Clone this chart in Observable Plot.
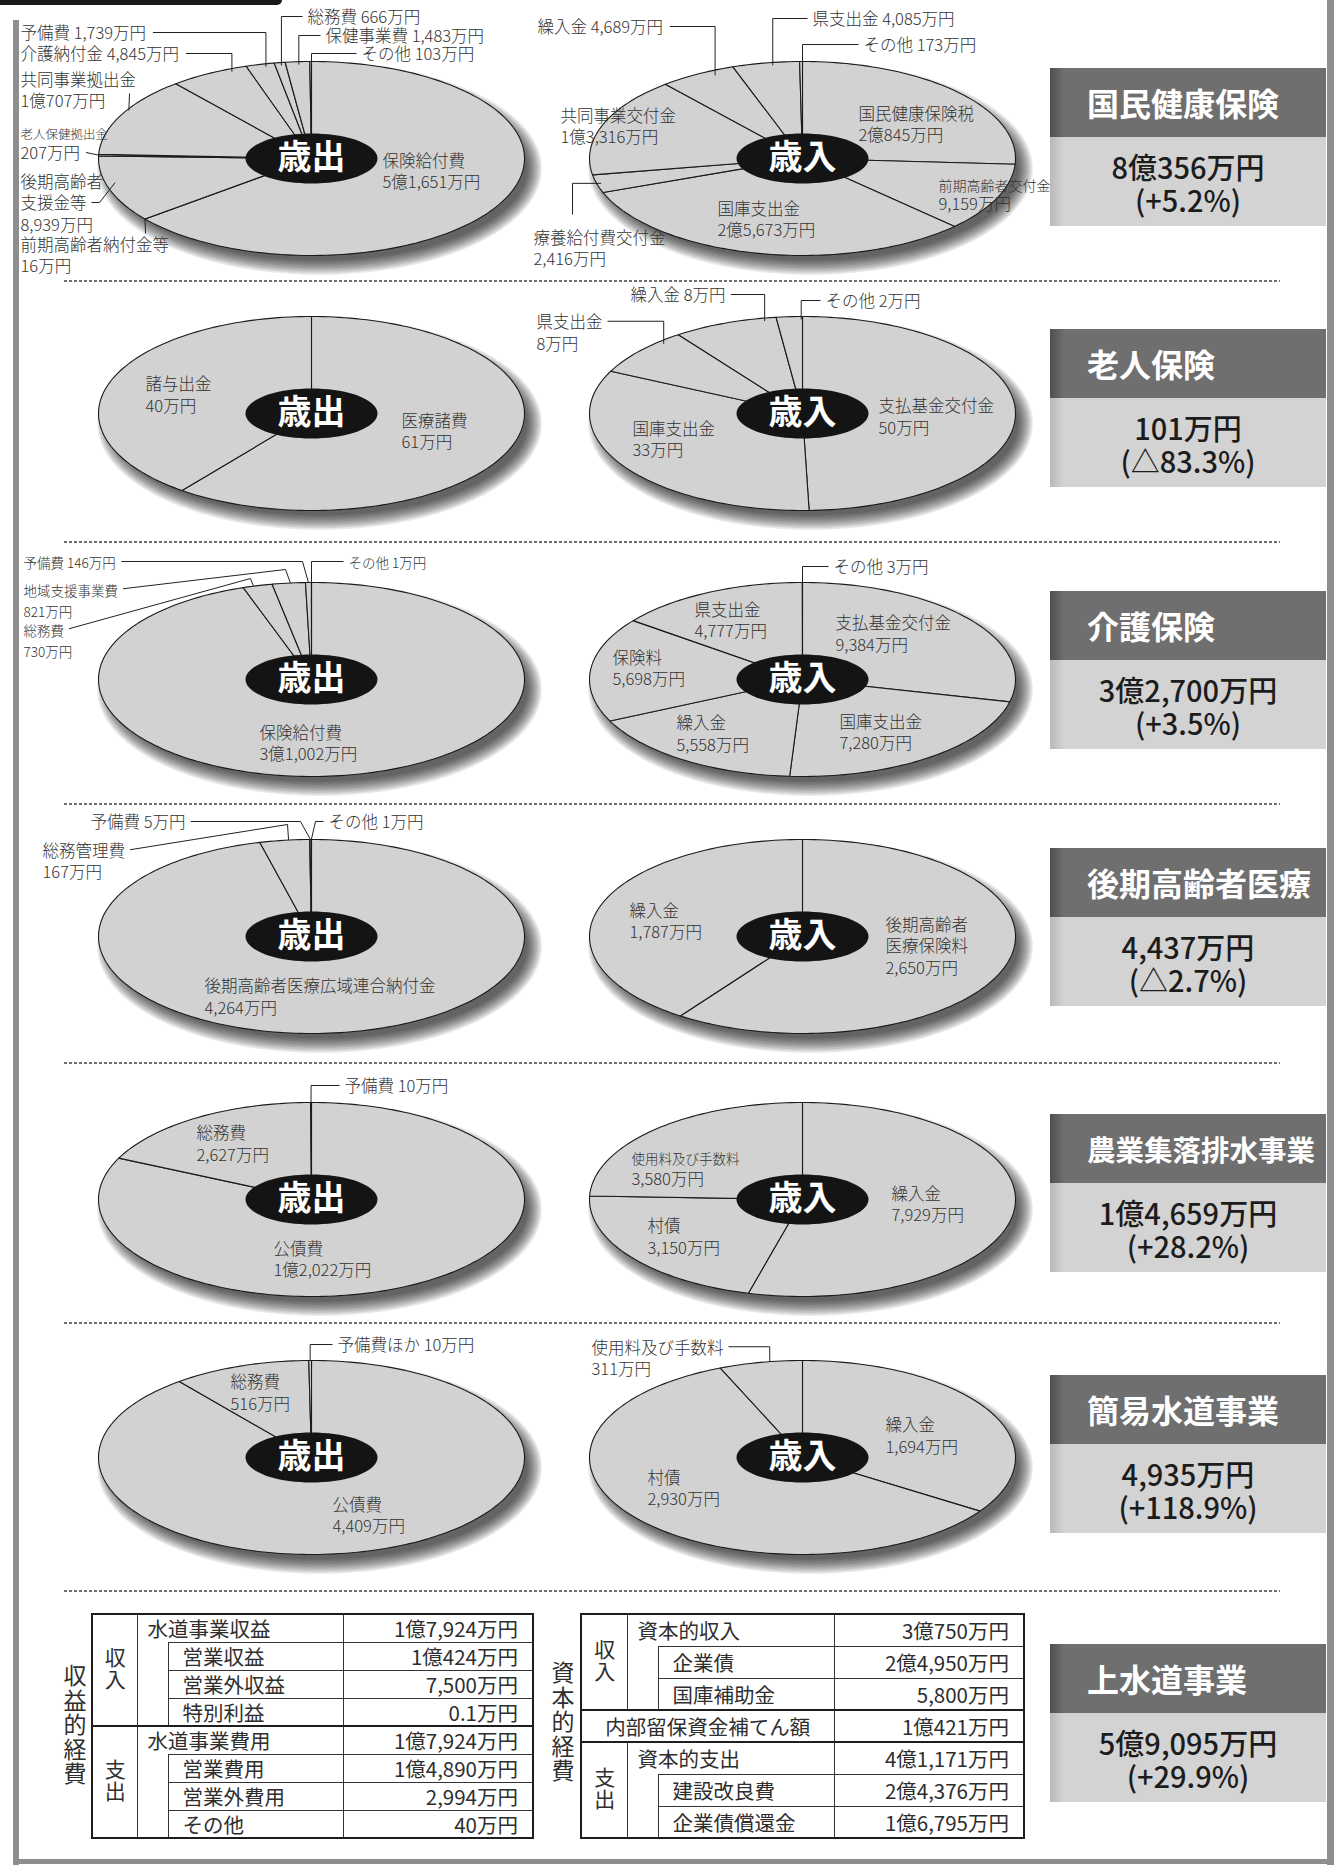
<!DOCTYPE html>
<html><head><meta charset="utf-8">
<script src="https://cdn.jsdelivr.net/npm/d3@7"></script>
<script src="https://cdn.jsdelivr.net/npm/@observablehq/plot@0.6"></script>
<style>
body{margin:0;background:#fff;font-family:"Noto Sans CJK JP","Noto Sans",sans-serif;}
#page{position:relative;width:1335px;height:1865px;overflow:hidden;background:#fff;}
.abs{position:absolute;}
.dash{position:absolute;height:1.5px;background:repeating-linear-gradient(to right,#707070 0 3px,transparent 3px 5px);}
.ban{position:absolute;width:276px;}
.bt{height:69px;line-height:69px;color:#fff;font-weight:700;padding-left:37px;box-sizing:border-box;white-space:nowrap;
 background:linear-gradient(to right,#4e4e4e 0px,#6f6f6f 14px,#6f6f6f 100%);}
.bv{height:89px;box-sizing:border-box;padding-top:13px;text-align:center;color:#1c1c1c;font-size:29px;font-weight:500;line-height:33px;
 background:linear-gradient(to right,#b9b9b9 0px,#d3d3d3 14px,#d3d3d3 100%);}
table.t{position:absolute;border-collapse:collapse;border:2px solid #1e1e1e;table-layout:fixed;color:#2e2e2e;font-size:20.5px;}
table.t td{border:1px solid #333;padding:0;white-space:nowrap;overflow:hidden;line-height:1;}
table.t td.vv{text-align:center;vertical-align:middle;}
table.t td.lb{padding-left:10px;}
table.t td.sub{padding-left:14px;}
table.t td.ctr{text-align:center;}
table.t td.val{text-align:right;padding-right:14px;}
table.t td.blank{border-top:hidden;}
table.t tr.thick td{border-top:2px solid #1e1e1e;}
.vt{display:inline-block;writing-mode:vertical-rl;text-orientation:upright;font-size:21px;letter-spacing:1px;line-height:1;}
.vlab{position:absolute;writing-mode:vertical-rl;text-orientation:upright;font-size:23px;letter-spacing:1.5px;line-height:1;color:#2e2e2e;}
</style></head><body><div id="page"></div>
<script>
// ---------------- data ----------------
const kokuhoOutNames = ["保険給付費","前期高齢者納付金等","後期高齢者支援金等","老人保健拠出金","共同事業拠出金","介護納付金","予備費","総務費","保健事業費","その他"];
const kokuhoOutValues = [51651,16,8939,207,10707,4845,1739,666,1483,103];
const kokuhoInNames = ["国民健康保険税","前期高齢者交付金","国庫支出金","療養給付費交付金","共同事業交付金","繰入金","県支出金","その他"];
const kokuhoInValues = [20845,9159,25673,2416,13316,4689,4085,173];
const rojinOutNames = ["医療諸費","諸与出金"];
const rojinOutValues = [61,40];
const rojinInNames = ["支払基金交付金","国庫支出金","県支出金","繰入金","その他"];
const rojinInValues = [50,33,8,8,2];
const kaigoOutNames = ["保険給付費","総務費","地域支援事業費","予備費","その他"];
const kaigoOutValues = [31002,730,821,146,1];
const kaigoInNames = ["支払基金交付金","国庫支出金","繰入金","保険料","県支出金","その他"];
const kaigoInValues = [9384,7280,5558,5698,4777,3];
const kokiOutNames = ["後期高齢者医療広域連合納付金","総務管理費","予備費","その他"];
const kokiOutValues = [4264,167,5,1];
const kokiInNames = ["後期高齢者医療保険料","繰入金"];
const kokiInValues = [2650,1787];
const nogyoOutNames = ["公債費","総務費","予備費"];
const nogyoOutValues = [12022,2627,10];
const nogyoInNames = ["繰入金","村債","使用料及び手数料"];
const nogyoInValues = [7929,3150,3580];
const kanisuiOutNames = ["公債費","総務費","予備費ほか"];
const kanisuiOutValues = [4409,516,10];
const kanisuiInNames = ["繰入金","村債","使用料及び手数料"];
const kanisuiInValues = [1694,2930,311];

const sectionTitles = ["国民健康保険","老人保険","介護保険","後期高齢者医療","農業集落排水事業","簡易水道事業","上水道事業"];
const sectionChanges = ["(+5.2%)","(△83.3%)","(+3.5%)","(△2.7%)","(+28.2%)","(+118.9%)","(+29.9%)"];

const suidoRevLabels = ["水道事業収益","営業収益","営業外収益","特別利益"];
const suidoRevValues = [17924,10424,7500,0.1];
const suidoExpLabels = ["水道事業費用","営業費用","営業外費用","その他"];
const suidoExpValues = [17924,14890,2994,40];
const capRevLabels = ["資本的収入","企業債","国庫補助金"];
const capRevValues = [30750,24950,5800];
const capFillLabel = "内部留保資金補てん額";
const capFillValue = 10421;
const capExpLabels = ["資本的支出","建設改良費","企業債償還金"];
const capExpValues = [41171,24376,16795];

// ---------------- layout ----------------
const sectionCY = [158,413,679,936,1199,1457];
const bannerTop = [68,329,591,848,1114,1375,1644];
const dashY = [280,541,803,1062,1322,1590];
const FF = '"Noto Sans CJK JP","Noto Sans CJK SC","Noto Sans",sans-serif';
const NS = 16.5, LH = 21.5, RX = 213, RY = 97, PH = 278, PCY = 160;

function fmt(v){
  if(!Number.isInteger(v)) return v + "万円";
  const oku = Math.floor(v/10000), rest = v % 10000;
  return (oku ? oku + "億" : "") + (rest ? d3.format(",")(rest) : "") + "万円";
}
const ctx = document.createElement("canvas").getContext("2d");
function tw(s,size,w=400){ctx.font = `${w} ${size}px ${FF}`;return ctx.measureText(s).width;}

const pies = [
 {sec:0, side:"L", names:kokuhoOutNames, values:kokuhoOutValues, center:"歳出", labels:[
   [6,-291,-126,"i",{ld:{t:.66,r:.97,k:"h"}}],
   [5,-291,-105,"i",{ld:{t:.78,r:.97,k:"h"}}],
   [4,-291,-69,"s",{ld:{t:.574,r:.99,from:[-182,-65]}}],
   [3,-291,-26,"n",{size:12.5}],
   [3,-291,-6,"v",{ld:{t:.5,r:1}}],
   [2,-291,44,"s",{br:5,ld:{t:.585,r:.955,line:1,via:[[-212,44]]}}],
   [1,-291,96,"s",{ld:{t:.5,r:1,from:[-166,75]}}],
   [0,71,12,"s"],
   [7,-4,-142,"i",{ld:{t:.575,r:.97,k:"h",side:"s"}}],
   [8,14,-123,"i",{ld:{t:.54,r:.97,k:"h",side:"s"}}],
   [9,50,-105,"i",{ld:{t:1,r:.97,k:"h",side:"s"}}]
 ]},
 {sec:0, side:"R", names:kokuhoInNames, values:kokuhoInValues, center:"歳入", labels:[
   [0,56,-35,"s"],
   [1,136,26,"n",{size:14}],
   [1,136,45,"v"],
   [2,-85,60,"s"],
   [3,-269,89,"s",{ld:{t:.5,r:.98,k:"v",from:[-230,56]}}],
   [4,-242,-33,"s"],
   [5,-265,-132,"i",{ld:{t:.69,r:.95,k:"h"}}],
   [6,10,-140,"i",{ld:{t:.59,r:.97,k:"h",side:"s"}}],
   [7,61,-114,"i",{ld:{t:1,r:.97,k:"h",side:"s"}}]
 ]},
 {sec:1, side:"L", names:rojinOutNames, values:rojinOutValues, center:"歳出", labels:[
   [0,90,17,"s"], [1,-166,-19.5,"s"]
 ]},
 {sec:1, side:"R", names:rojinInNames, values:rojinInValues, center:"歳入", labels:[
   [0,76,2.5,"s"], [1,-170,25,"s"],
   [2,-266,-81.5,"s",{ld:{t:.77,r:.97,k:"h"}}],
   [3,-172,-119,"i",{ld:{t:.88,r:.97,k:"h"}}],
   [4,23,-113,"i",{ld:{t:.95,r:.97,k:"h",side:"s"}}]
 ]},
 {sec:2, side:"L", names:kaigoOutNames, values:kaigoOutValues, center:"歳出", labels:[
   [0,-52,63,"s"],
   [1,-288,-40,"s",{size:13.5,ld:{t:.36,r:1,via:[[-61,-101]]}}],
   [2,-288,-80,"s",{size:13.5,ld:{t:.55,r:1,via:[[-26,-110]]}}],
   [3,-288,-118,"i",{size:13.5,ld:{t:.5,r:1,via:[[-9,-118]]}}],
   [4,37,-118,"i",{size:13.5,ld:{t:1,r:1,k:"h",side:"s"}}]
 ]},
 {sec:2, side:"R", names:kaigoInNames, values:kaigoInValues, center:"歳入", labels:[
   [0,33,-46.5,"s"], [1,37,52,"s"], [2,-126,53.5,"s"], [3,-190,-12,"s"], [4,-108,-60,"s"],
   [5,31,-113,"i",{ld:{t:1,r:1,k:"h",side:"s"}}]
 ]},
 {sec:3, side:"L", names:kokiOutNames, values:kokiOutValues, center:"歳出", labels:[
   [0,-107,59.5,"s"],
   [1,-269,-76,"s",{ld:{t:.58,r:1,via:[[-24,-112]]}}],
   [2,-221,-115,"i",{ld:{t:.5,r:1,via:[[-11,-115]]}}],
   [3,17,-115,"i",{ld:{t:.5,r:1,side:"s",via:[[4,-115]]}}]
 ]},
 {sec:3, side:"R", names:kokiInNames, values:kokiInValues, center:"歳入", labels:[
   [0,83,9,"s",{br:5}], [1,-173,-16,"s"]
 ]},
 {sec:4, side:"L", names:nogyoOutNames, values:nogyoOutValues, center:"歳出", labels:[
   [0,-38,59,"s"], [1,-115,-56.5,"s"],
   [2,33,-114,"i",{ld:{t:.5,r:1,k:"h",side:"s"}}]
 ]},
 {sec:4, side:"R", names:nogyoInNames, values:nogyoInValues, center:"歳入", labels:[
   [0,89,4,"s"], [1,-155,36.5,"s"],
   [2,-171,-42,"n",{size:13.5}], [2,-171,-21,"v"]
 ]},
 {sec:5, side:"L", names:kanisuiOutNames, values:kanisuiOutValues, center:"歳出", labels:[
   [0,21,57,"s"], [1,-81,-65.5,"s"],
   [2,26,-113,"i",{ld:{t:.5,r:1,k:"h",side:"s"}}]
 ]},
 {sec:5, side:"R", names:kanisuiInNames, values:kanisuiInValues, center:"歳入", labels:[
   [0,83,-22.5,"s"], [1,-155,30,"s"],
   [2,-211,-100,"s",{ld:{t:.61,r:1,k:"h"}}]
 ]}
];

const page = document.getElementById("page");
function div(cls, css, html){const d=document.createElement("div");if(cls)d.className=cls;d.style.cssText=css;if(html!=null)d.innerHTML=html;page.appendChild(d);return d;}

// frame
div("abs","left:0;top:0;width:282px;height:5px;background:#1a1a1a;border-bottom-right-radius:6px;");
div("abs","left:13px;top:20px;width:6px;height:1845px;background:#8e8e8e;");
div("abs","left:1327px;top:0;width:7px;height:1865px;background:#8e8e8e;");
div("abs","left:13px;top:1859px;width:1321px;height:5px;background:#8e8e8e;");
dashY.forEach(y=>div("dash",`left:64px;top:${y}px;width:1216px;`));

function drawPie(p){
  const cy = sectionCY[p.sec];
  const left = p.side==="L" ? 0 : 525, width = p.side==="L" ? 540 : 520;
  const cx = (p.side==="L" ? 311 : 802) - left;
  const arcs = d3.pie().sort(null).value(d=>d)(p.values);
  const slicePts = [];
  arcs.forEach((a,i)=>{
    const n = Math.max(1, Math.ceil((a.endAngle-a.startAngle)/(Math.PI/120)));
    slicePts.push({k:i,x:0,y:0});
    for(let j=0;j<=n;j++){const t=a.startAngle+(a.endAngle-a.startAngle)*j/n;slicePts.push({k:i,x:RX*Math.sin(t),y:-RY*Math.cos(t)});}
    slicePts.push({k:i,x:0,y:0});
  });
  // soft shadow: stacked translucent ellipses offset down-right
  const shadowPts = [];
  for(let s=0;s<10;s++){
    const grow = -5 + s*1.6;
    for(let j=0;j<=90;j++){const t=j/90*2*Math.PI;shadowPts.push({k:s,x:8+(RX+grow)*Math.sin(t),y:10-(RY+grow)*Math.cos(t)});}
  }
  const centerPts = d3.range(0,73).map(j=>{const t=j/72*2*Math.PI;return {x:66*Math.sin(t),y:-25*Math.cos(t)};});
  function endPt(i,t,r){const a=arcs[i];const ang=a.startAngle+(a.endAngle-a.startAngle)*t;return [RX*r*Math.sin(ang),-RY*r*Math.cos(ang)];}
  const texts = [], leaders = [];
  p.labels.forEach((L,li)=>{
    const [i,dx,dy,mode,opt={}] = L;
    const size = opt.size || NS;
    const name = p.names[i], val = fmt(p.values[i]);
    const nm = opt.br ? [name.slice(0,opt.br), name.slice(opt.br)] : [name];
    let lines;
    if(mode==="i") lines=[name+" "+val];
    else if(mode==="s") lines=[...nm,val];
    else if(mode==="n") lines=nm;
    else lines=[val];
    texts.push({x:dx,y:dy,text:lines.join("\n"),size});
    if(opt.ld){
      const ld = opt.ld, line = ld.line||0;
      const ly = dy + (line-(lines.length-1)/2)*LH;
      let start;
      if(ld.from) start = ld.from;
      else if(ld.side==="s") start = [dx-5, ly];
      else start = [dx+tw(lines[line],size)+5, ly];
      const e = endPt(i,ld.t,ld.r);
      const pts = [start, ...(ld.via||[])];
      const last = pts[pts.length-1];
      if(ld.k==="h") pts.push([e[0], last[1]]);
      if(ld.k==="v") pts.push([last[0], e[1]]);
      pts.push(e);
      pts.forEach(q=>leaders.push({k:li,x:q[0],y:q[1]}));
    }
  });
  const sizes = [...new Set(texts.map(d=>d.size))];
  const plot = Plot.plot({
    width, height:PH, margin:0,
    x:{domain:[-RX,RX], range:[cx-RX,cx+RX], axis:null},
    y:{domain:[-RY,RY], range:[PCY-RY,PCY+RY], axis:null},
    style:{background:"transparent", overflow:"visible"},
    marks:[
      Plot.line(shadowPts,{x:"x",y:"y",z:"k",fill:"#000",fillOpacity:0.085,stroke:"none"}),
      Plot.line(slicePts,{x:"x",y:"y",z:"k",fill:"#d2d2d2",stroke:"#1b1b1b",strokeWidth:1.1}),
      Plot.line(leaders,{x:"x",y:"y",z:"k",stroke:"#222",strokeWidth:1,strokeLinecap:"butt",strokeLinejoin:"miter"}),
      Plot.line(centerPts,{x:"x",y:"y",fill:"#141414",stroke:"none"}),
      Plot.text([{x:0,y:0,t:p.center}],{x:"x",y:"y",text:"t",fill:"#fff",fontSize:34,fontWeight:"bold",fontFamily:FF}),
      ...sizes.map(s=>Plot.text(texts.filter(d=>d.size===s),{x:"x",y:"y",text:"text",textAnchor:"start",lineAnchor:"middle",
        fontSize:s,lineHeight:LH/s,fill:"#333",fontWeight:300,fontFamily:FF}))
    ]
  });
  const holder = div("abs",`left:${left}px;top:${cy-PCY}px;width:${width}px;height:${PH}px;`);
  holder.appendChild(plot);
}
pies.forEach(drawPie);

// banners
const sectionTotals = [
  d3.sum(kokuhoOutValues), d3.sum(rojinOutValues), d3.sum(kaigoOutValues), d3.sum(kokiOutValues),
  d3.sum(nogyoOutValues), d3.sum(kanisuiOutValues), suidoExpValues[0] + capExpValues[0]
];
sectionTitles.forEach((t,i)=>{
  const fs = Math.min(32, 228/t.length);
  const b = div("ban",`left:1050px;top:${bannerTop[i]}px;`);
  b.innerHTML = `<div class="bt" style="font-size:${fs}px">${t}</div><div class="bv">${fmt(sectionTotals[i])}<br>${sectionChanges[i]}</div>`;
});

// tables
function table1(){
  const r = suidoRevLabels, rv = suidoRevValues, e = suidoExpLabels, ev = suidoExpValues;
  let h = `<colgroup><col style="width:45px"><col style="width:31px"><col style="width:175px"><col style="width:190px"></colgroup>`;
  const block = (labs, vals, head, thick) => {
    let s = `<tr class="${thick?'thick':''}" style="height:28px"><td class="vv" rowspan="${labs.length}"><span class="vt">${head}</span></td><td class="lb" colspan="2">${labs[0]}</td><td class="val">${fmt(vals[0])}</td></tr>`;
    for(let k=1;k<labs.length;k++){
      s += `<tr style="height:28px">${k===1?`<td class="blank" rowspan="${labs.length-1}"></td>`:''}<td class="sub">${labs[k]}</td><td class="val">${fmt(vals[k])}</td></tr>`;
    }
    return s;
  };
  h += block(r, rv, "収入", false) + block(e, ev, "支出", true);
  const t = document.createElement("table"); t.className="t"; t.style.cssText="left:91px;top:1613px;width:441px;height:225px;"; t.innerHTML=h; page.appendChild(t);
  div("vlab","left:63px;top:1664px;","収益的経費");
}
function table2(){
  let h = `<colgroup><col style="width:46px"><col style="width:31px"><col style="width:176px"><col style="width:190px"></colgroup>`;
  const block = (labs, vals, head, thick) => {
    let s = `<tr class="${thick?'thick':''}" style="height:32px"><td class="vv" rowspan="${labs.length}"><span class="vt">${head}</span></td><td class="lb" colspan="2">${labs[0]}</td><td class="val">${fmt(vals[0])}</td></tr>`;
    for(let k=1;k<labs.length;k++){
      s += `<tr style="height:32px">${k===1?`<td class="blank" rowspan="${labs.length-1}"></td>`:''}<td class="sub">${labs[k]}</td><td class="val">${fmt(vals[k])}</td></tr>`;
    }
    return s;
  };
  h += block(capRevLabels, capRevValues, "収入", false);
  h += `<tr class="thick" style="height:32px"><td class="ctr" colspan="3">${capFillLabel}</td><td class="val">${fmt(capFillValue)}</td></tr>`;
  h += block(capExpLabels, capExpValues, "支出", true);
  const t = document.createElement("table"); t.className="t"; t.style.cssText="left:580px;top:1613px;width:443px;height:225px;"; t.innerHTML=h; page.appendChild(t);
  div("vlab","left:551px;top:1661px;","資本的経費");
}
table1(); table2();
</script></body></html>
